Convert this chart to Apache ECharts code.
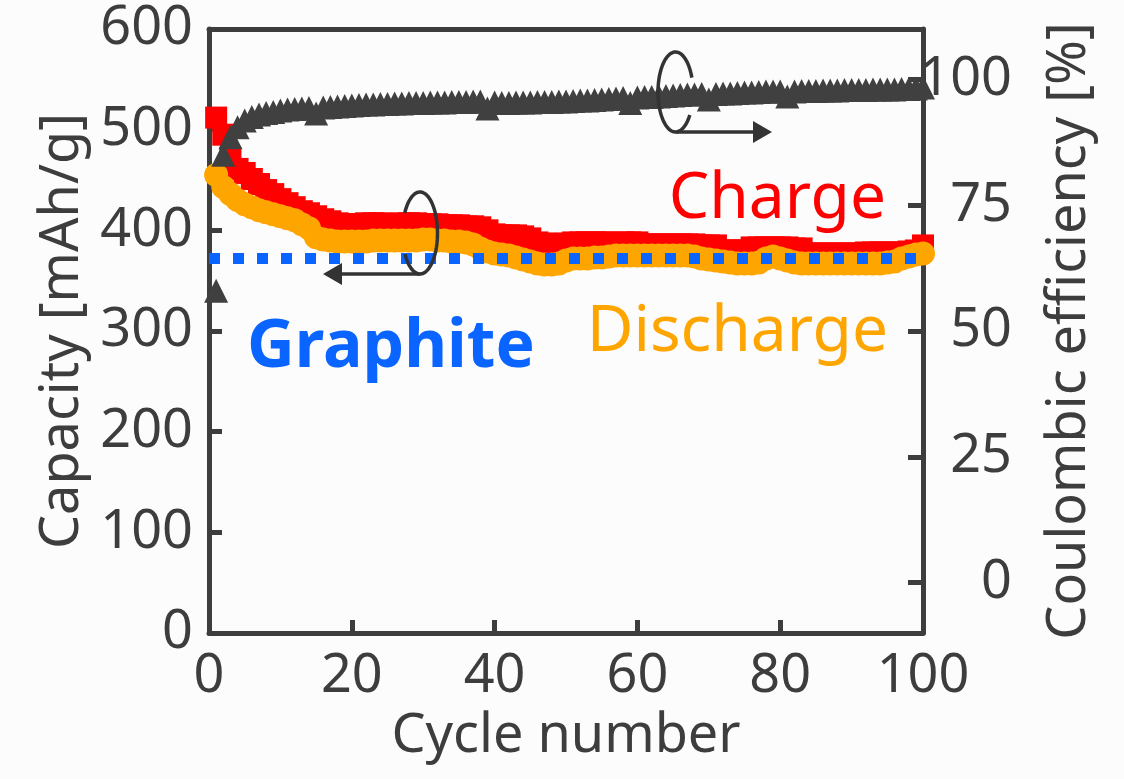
<!DOCTYPE html>
<html>
<head>
<meta charset="utf-8">
<script src="https://cdn.jsdelivr.net/npm/echarts@6/dist/echarts.min.js"></script>
<style>
  html, body { margin: 0; padding: 0; background: #fcfcfc; }
  #chart { width: 1124px; height: 779px; }
</style>
</head>
<body>
<div id="chart"></div>
<script>
// capacity (mAh/g) and coulombic efficiency (%) per cycle
const cycles = Array.from({ length: 100 }, (_, i) => i + 1);
const chargeCap = [
  512, 495, 472, 461, 457, 451, 446, 440, 436, 431,
  427, 423, 419, 417, 414, 411, 409, 407, 406, 406,
  406, 407, 407, 407, 406, 406, 407, 407, 407, 406,
  406, 406, 405, 405, 405, 404, 404, 403, 400, 396,
  395, 395, 395, 394, 392, 388, 387, 384, 386, 387,
  388, 388, 388, 388, 388, 388, 387, 388, 388, 388,
  386, 386, 386, 386, 386, 386, 386, 386, 385, 385,
  385, 380, 380, 380, 380, 383, 383, 383, 383, 383,
  383, 382, 382, 377, 377, 377, 377, 377, 377, 377,
  377, 378, 378, 378, 378, 378, 378, 379, 380, 385
];
const dischargeCap = [
  455, 443, 436, 430, 426, 423, 420, 418, 416, 414,
  412, 410, 406, 402, 393, 391, 390, 389, 389, 389,
  389, 389, 390, 390, 390, 390, 390, 390, 390, 391,
  391, 390, 390, 389, 389, 388, 386, 382, 379, 377,
  376, 375, 373, 371, 369, 367, 366, 366, 367, 370,
  372, 372, 372, 373, 373, 374, 375, 375, 375, 375,
  375, 375, 375, 375, 375, 375, 375, 374, 372, 371,
  370, 369, 368, 367, 367, 367, 368, 372, 374, 372,
  370, 368, 367, 367, 367, 367, 367, 367, 367, 367,
  367, 367, 367, 367, 368, 369, 372, 374, 376, 377
];
const efficiency = [
  58, 85, 88.5, 90.5, 91.8, 92.5, 93, 93.3, 93.5, 93.8,
  94, 94.1, 94.2, 94.3, 93.2, 94.4, 94.5, 94.6, 94.7, 94.8,
  94.9, 95, 95, 95.1, 95.1, 95.2, 95.2, 95.3, 95.3, 95.3,
  95.4, 95.4, 95.4, 95.5, 95.5, 95.5, 95.6, 95.6, 94.2, 95.4,
  95.3, 95.3, 95.4, 95.4, 95.4, 95.5, 95.5, 95.5, 95.6, 95.6,
  95.7, 95.8, 95.8, 95.9, 96, 96.1, 96.2, 96.3, 95.3, 96.4,
  96.5, 96.5, 96.6, 96.7, 96.8, 96.9, 97, 97, 97.1, 96,
  97.1, 97.2, 97.2, 97.3, 97.4, 97.4, 97.5, 97.6, 97.6, 97.6,
  96.6, 97.6, 97.7, 97.7, 97.7, 97.8, 97.8, 97.8, 97.9, 97.9,
  97.9, 97.9, 98, 98, 98, 98, 98.1, 98.1, 98.2, 98.4
];
const graphiteX = [0, 100];
const graphiteCap = 372;
const ceTicks = [0, 25, 50, 75, 100];

const axisColor = "#3d3d3d";
const font = "Noto Sans";

const pairs = (ys) => cycles.map((c, i) => [c, ys[i]]);

// open ring drawn as a polyline (decoration only)
const ring = (cx, cy, rx, ry, fromDeg, toDeg) => {
  const pts = [];
  for (let d = fromDeg; d <= toDeg; d += 4) {
    const a = (d * Math.PI) / 180;
    pts.push([cx + rx * Math.cos(a), cy + ry * Math.sin(a)]);
  }
  return pts;
};

const chart = echarts.init(document.getElementById("chart"));
chart.setOption({
  backgroundColor: "#fcfcfc",
  animation: false,
  grid: { left: 209, right: 201, top: 29, bottom: 146 },
  xAxis: [
    {
      type: "value",
      min: 0,
      max: 100,
      interval: 20,
      name: "Cycle number",
      nameLocation: "middle",
      nameGap: 77,
      nameTextStyle: { color: axisColor, fontSize: 54, fontFamily: font },
      axisLine: { lineStyle: { color: axisColor, width: 5 } },
      axisTick: { inside: true, length: 13, lineStyle: { color: axisColor, width: 5 } },
      axisLabel: { color: axisColor, fontSize: 54, fontFamily: font, margin: 17 },
      splitLine: { show: false },
    },
    {
      type: "value",
      position: "top",
      min: 0,
      max: 100,
      axisLine: { onZero: false, lineStyle: { color: axisColor, width: 5 } },
      axisTick: { show: false },
      axisLabel: { show: false },
      splitLine: { show: false },
    },
  ],
  yAxis: [
    {
      type: "value",
      min: 0,
      max: 600,
      interval: 100,
      name: "Capacity [mAh/g]",
      nameLocation: "middle",
      nameGap: 118,
      nameTextStyle: { color: axisColor, fontSize: 54, fontFamily: font },
      axisLine: { show: true, onZero: false, lineStyle: { color: axisColor, width: 5 } },
      axisTick: { inside: true, length: 13, lineStyle: { color: axisColor, width: 5 } },
      axisLabel: { color: axisColor, fontSize: 54, fontFamily: font, margin: 16, padding: [10, 0, 0, 0] },
      splitLine: { show: false },
    },
    {
      type: "value",
      position: "right",
      min: -10,
      max: 110,
      name: "Coulombic efficiency [%]",
      nameLocation: "middle",
      nameGap: 120,
      nameTextStyle: { color: axisColor, fontSize: 54, fontFamily: font },
      axisLine: { show: true, onZero: false, lineStyle: { color: axisColor, width: 5 } },
      axisTick: {
        inside: true, length: 15, customValues: ceTicks,
        lineStyle: { color: axisColor, width: 5 },
      },
      axisLabel: {
        color: axisColor, fontSize: 54, fontFamily: font, margin: 89,
        align: "right", customValues: ceTicks, padding: [10, 0, 0, 0],
      },
      splitLine: { show: false },
    },
  ],
  series: [
    {
      name: "Charge",
      type: "scatter",
      symbol: "rect",
      symbolSize: 22,
      itemStyle: { color: "#ff0000", opacity: 1 },
      data: pairs(chargeCap),
      z: 2,
    },
    {
      name: "Discharge",
      type: "scatter",
      symbol: "circle",
      symbolSize: 24,
      itemStyle: { color: "#ffa500", opacity: 1 },
      data: pairs(dischargeCap),
      z: 3,
    },
    {
      name: "Coulombic efficiency",
      type: "scatter",
      yAxisIndex: 1,
      symbol: "triangle",
      symbolSize: 24,
      itemStyle: { color: "#404040", opacity: 1 },
      data: pairs(efficiency),
      z: 4,
    },
    {
      name: "Graphite",
      type: "line",
      symbol: "none",
      data: graphiteX.map((x) => [x, graphiteCap]),
      lineStyle: { color: "#0a64ff", width: 11, type: [11, 13], cap: "butt" },
      z: 5,
    },
  ],
  graphic: [
    // ring + arrow pointing to left axis
    {
      type: "polyline", z: 100,
      shape: { points: ring(420, 233, 17.5, 41, 209, 512) },
      style: { fill: null, stroke: "#333", lineWidth: 3.5 },
    },
    {
      type: "line", z: 100,
      shape: { x1: 420, y1: 274, x2: 340, y2: 274 },
      style: { stroke: "#333", lineWidth: 3.5 },
    },
    {
      type: "polygon", z: 100,
      shape: { points: [[323, 274], [342, 263], [342, 285]] },
      style: { fill: "#333" },
    },
    // ring + arrow pointing to right axis
    {
      type: "polyline", z: 100,
      shape: { points: ring(675.5, 92, 17.5, 40, 35, 340) },
      style: { fill: null, stroke: "#333", lineWidth: 3.5 },
    },
    {
      type: "line", z: 100,
      shape: { x1: 676, y1: 132, x2: 755, y2: 132 },
      style: { stroke: "#333", lineWidth: 3.5 },
    },
    {
      type: "polygon", z: 100,
      shape: { points: [[772, 132], [753, 121], [753, 143]] },
      style: { fill: "#333" },
    },
    {
      type: "text", z: 100, x: 886, y: 200,
      style: { text: "Charge", fill: "#ff0000", font: "64px 'Noto Sans'", align: "right", verticalAlign: "middle" },
    },
    {
      type: "text", z: 100, x: 888, y: 333,
      style: { text: "Discharge", fill: "#ffa500", font: "64px 'Noto Sans'", align: "right", verticalAlign: "middle" },
    },
    {
      type: "text", z: 100, x: 247, y: 348,
      style: { text: "Graphite", fill: "#0a64ff", font: "bold 66px 'Noto Sans'", align: "left", verticalAlign: "middle" },
    },
  ],
});
</script>
</body>
</html>
